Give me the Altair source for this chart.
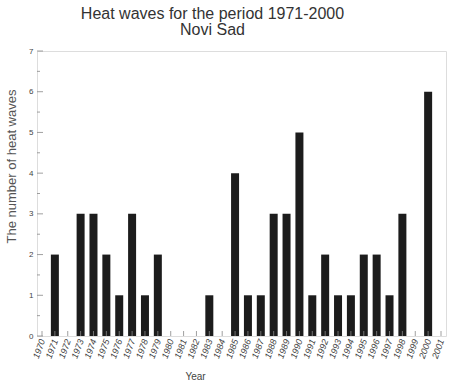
import altair as alt
import pandas as pd

years = list(range(1971, 2001))
heat_waves = [2, 0, 3, 3, 2, 1, 3, 1, 2, 0, 0, 0, 1, 0, 4,
              1, 1, 3, 3, 5, 1, 2, 1, 1, 2, 2, 1, 3, 0, 6]
tick_years = list(range(1970, 2002))
y_major = list(range(0, 8))
y_minor = [v + 0.5 for v in range(0, 7)]

df = pd.DataFrame({"year": years, "count": heat_waves})
xt = pd.DataFrame({"year": tick_years})
yt_major = pd.DataFrame({"v": y_major})
yt_minor = pd.DataFrame({"v": y_minor})

W, H = 409, 285
FONT = "Liberation Sans"

x_scale = alt.Scale(domain=[1970, 2001], nice=False, zero=False)
y_scale = alt.Scale(domain=[0, 7], nice=False)

x_axis = alt.Axis(values=tick_years, format="d", labelAngle=290,
                  labelAlign="right", labelBaseline="middle",
                  labelFontSize=9, labelColor="#444", labelFont=FONT,
                  labelPadding=3, tickSize=0, domain=False, grid=False,
                  labelOverlap=False, labelFontStyle="italic",
                  labelFlush=False, labelBound=False,
                  title="Year", titleFont=FONT, titleFontSize=10,
                  titleFontWeight="normal", titleColor="#444",
                  titleX=158, titleY=40, titleAlign="center",
                  titleBaseline="middle")
y_axis = alt.Axis(values=y_major, labelFontSize=8, labelColor="#444",
                  labelFont=FONT, labelPadding=4, tickSize=0,
                  domain=False, grid=False,
                  title="The number of heat waves", titleFont=FONT,
                  titleFontSize=13, titleFontWeight="normal",
                  titleColor="#555", titleX=-19, titleY=115,
                  titleAlign="center")

bars = alt.Chart(df).mark_bar(size=8, color="#1c1c1c").encode(
    x=alt.X("year:Q", scale=x_scale, axis=x_axis),
    y=alt.Y("count:Q", scale=y_scale, axis=y_axis),
)

# inward ticks drawn as short rules
x_ticks = alt.Chart(xt).mark_rule(color="#888", strokeWidth=0.8).encode(
    x=alt.X("year:Q", scale=x_scale, axis=x_axis),
    y=alt.value(H), y2=alt.value(H - 5),
)

y_ticks_major = alt.Chart(yt_major).mark_rule(color="#888", strokeWidth=0.8).encode(
    y=alt.Y("v:Q", scale=y_scale, axis=y_axis),
    x=alt.value(0), x2=alt.value(6),
)

y_ticks_minor = alt.Chart(yt_minor).mark_rule(color="#888", strokeWidth=0.8).encode(
    y=alt.Y("v:Q", scale=y_scale, axis=y_axis),
    x=alt.value(0), x2=alt.value(3),
)

chart = alt.layer(bars, x_ticks, y_ticks_major, y_ticks_minor).properties(
    width=W, height=H,
    title=alt.TitleParams(
        text=["Heat waves for the period 1971-2000", "Novi Sad"],
        font=FONT, fontSize=16, fontWeight="normal", color="#333",
        anchor="middle", dx=-29, offset=9, lineHeight=16,
    ),
    autosize=alt.AutoSizeParams(type="none"),
    padding={"left": 37, "top": 51, "right": 5, "bottom": 46},
).configure_view(stroke="#999", strokeWidth=1).configure(background="white")

chart.save("out.html", embed_options={"renderer": "svg", "actions": False})
